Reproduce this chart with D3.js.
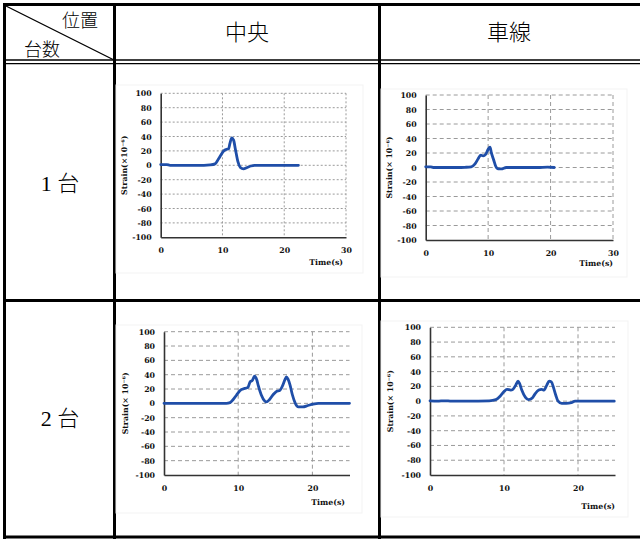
<!DOCTYPE html>
<html>
<head>
<meta charset="utf-8">
<script src="https://cdn.jsdelivr.net/npm/d3@7/dist/d3.min.js"></script>
<style>
  html, body { margin: 0; padding: 0; background: #fff; }
  svg { display: block; }
</style>
</head>
<body>
<svg id="fig" width="640" height="539"></svg>
<script>
// Table headings
const columnHeads = ["中央", "車線"];
const rowHeads = [["1", "台"], ["2", "台"]];
const cornerTop = "位置";
const cornerBottom = "台数";

// Axis ticks
const yTicks = [100, 80, 60, 40, 20, 0, -20, -40, -60, -80, -100];
const xTicks30 = [0, 10, 20, 30];
const xTicks25 = [0, 10, 20];

// Strain records: [time (s), strain (×10^-6)]
const centerOne = [
  [0, 1], [1, 1], [1.5, 0], [3, 0], [5, 0], [7, 0], [8, 0.5], [8.8, 2], [9.3, 8],
  [9.8, 15], [10.2, 20], [10.6, 22], [11.0, 23], [11.2, 30], [11.5, 38], [11.8, 35],
  [12.1, 22], [12.5, 5], [12.9, -3], [13.4, -5], [14, -3], [14.6, -1], [15.2, 0],
  [17, 0], [20, 0], [22.3, 0]
];
const laneOne = [
  [0, 1], [0.8, 1], [1.2, 0], [3, 0], [5, 0], [6.3, 0.3], [7.3, 1], [7.9, 5],
  [8.4, 12], [8.8, 17], [9.2, 16], [9.6, 18], [10.0, 25], [10.3, 28], [10.5, 21],
  [10.9, 10], [11.2, 2], [11.6, -2], [12.1, -2], [12.9, 0], [15, 0], [18, 0],
  [19.5, 0.5], [20.6, 0]
];
const centerTwo = [
  [0, 0], [3, 0], [6, 0], [8.4, 0], [8.9, 1], [9.3, 5], [9.8, 12], [10.4, 19],
  [10.9, 21], [11.3, 22], [11.6, 30], [11.9, 32], [12.2, 38], [12.5, 33], [12.7, 25],
  [13.1, 12], [13.6, 3], [13.8, 2], [14.2, 5], [14.7, 12], [15.2, 17], [15.6, 18],
  [16.0, 25], [16.3, 33], [16.5, 37], [16.7, 34], [17.0, 25], [17.3, 12], [17.7, 0],
  [18.1, -5], [18.7, -5], [19.4, -3], [20.1, -1], [20.8, 0], [23, 0], [25, 0]
];
const laneTwo = [
  [0, 0.5], [1, 0], [2, 0.5], [2.9, 0], [5, 0], [8, 0.5], [8.9, 2], [9.5, 7],
  [10.0, 13], [10.4, 16], [10.9, 15], [11.2, 16], [11.6, 22], [11.9, 27], [12.1, 24],
  [12.4, 15], [12.9, 5], [13.3, 2], [13.8, 4], [14.2, 10], [14.7, 15], [15.1, 16],
  [15.4, 15], [15.8, 22], [16.1, 27], [16.4, 26], [16.7, 18], [17.0, 8], [17.3, 0],
  [17.8, -3], [18.4, -3], [19.1, -2], [19.6, 0], [22, 0], [24.9, 0]
];

const svg = d3.select("#fig");
const ink = "#000";
const cjk = "'Noto Sans CJK JP', 'Noto Sans', sans-serif";

// ---- table frame ----
const T = svg.append("g");
function hline(x1, x2, y, w) {
  T.append("line").attr("x1", x1).attr("x2", x2).attr("y1", y).attr("y2", y)
    .attr("stroke", ink).attr("stroke-width", w);
}
function vline(x, y1, y2, w) {
  T.append("line").attr("x1", x).attr("x2", x).attr("y1", y1).attr("y2", y2)
    .attr("stroke", ink).attr("stroke-width", w);
}
hline(3, 640, 4.5, 3);
hline(3, 640, 60, 1.4);
hline(3, 640, 63.6, 1.4);
hline(3, 640, 300.5, 3);
hline(3, 640, 537, 3);
vline(4.5, 3, 539, 3);
vline(114.5, 3, 539, 3);
vline(379.5, 3, 539, 3);
T.append("line").attr("x1", 6).attr("y1", 6).attr("x2", 113).attr("y2", 59.5)
  .attr("stroke", ink).attr("stroke-width", 1.3);

T.append("text").attr("x", 80).attr("y", 27).attr("text-anchor", "middle")
  .attr("font-family", cjk).attr("font-weight", 300).attr("font-size", 18).text(cornerTop);
T.append("text").attr("x", 42).attr("y", 56).attr("text-anchor", "middle")
  .attr("font-family", cjk).attr("font-weight", 300).attr("font-size", 18).text(cornerBottom);

[247, 509].forEach((cx, i) => {
  T.append("text").attr("x", cx).attr("y", 40).attr("text-anchor", "middle")
    .attr("font-family", cjk).attr("font-weight", 300).attr("font-size", 22)
    .text(columnHeads[i]);
});
[191, 426].forEach((by, i) => {
  const t = T.append("text").attr("x", 60).attr("y", by).attr("text-anchor", "middle")
    .attr("font-size", 22);
  t.append("tspan").attr("font-family", "'Liberation Serif', serif").text(rowHeads[i][0] + " ");
  t.append("tspan").attr("font-family", cjk).attr("font-weight", 300).text(rowHeads[i][1]);
});

// ---- strain charts ----
const panels = [
  { data: centerOne, xMax: 30, ticks: xTicks30, frame: [116, 85, 363, 273],
    px: [160.7, 346], py: [93.3, 237.3], dash: "2,2", ylab: "Strain(×10⁻⁶)",
    yLabX: 125, timeY: 265, timeX: 343 },
  { data: laneOne, xMax: 30, ticks: xTicks30, frame: [381, 89, 627, 277],
    px: [425.7, 613], py: [95, 240], dash: "4,3", ylab: "Strain(× 10⁻⁶)",
    yLabX: 390, timeY: 266, timeX: 613 },
  { data: centerTwo, xMax: 25, ticks: xTicks25, frame: [116, 325, 362, 513],
    px: [164, 349.5], py: [331.7, 475], dash: "4,3", ylab: "Strain(× 10⁻⁶)",
    yLabX: 126, timeY: 505, timeX: 345 },
  { data: laneTwo, xMax: 25, ticks: xTicks25, frame: [381, 321, 628, 517],
    px: [430, 615], py: [327.3, 475], dash: "4,3", ylab: "Strain(× 10⁻⁶)",
    yLabX: 391, timeY: 509, timeX: 615 }
];

const labelFont = "'DejaVu Serif', serif";
const plain = d => String(d);

panels.forEach(p => {
  const g = svg.append("g");
  const [fx1, fy1, fx2, fy2] = p.frame;
  g.append("rect").attr("x", fx1).attr("y", fy1).attr("width", fx2 - fx1).attr("height", fy2 - fy1)
    .attr("fill", "#fff").attr("stroke", "#f3f3f3").attr("stroke-width", 1);

  const x = d3.scaleLinear().domain([0, p.xMax]).range(p.px);
  const y = d3.scaleLinear().domain([-100, 100]).range([p.py[1], p.py[0]]);

  // horizontal grid
  g.append("g").selectAll("line").data(yTicks.filter(v => v > -100)).join("line")
    .attr("x1", p.px[0]).attr("x2", p.px[1])
    .attr("y1", d => y(d)).attr("y2", d => y(d))
    .attr("stroke", "#9a9a9a").attr("stroke-width", 1).attr("stroke-dasharray", p.dash);
  // vertical grid
  g.append("g").selectAll("line").data(p.ticks.filter(v => v > 0)).join("line")
    .attr("x1", d => x(d)).attr("x2", d => x(d))
    .attr("y1", p.py[0]).attr("y2", p.py[1])
    .attr("stroke", "#9a9a9a").attr("stroke-width", 1).attr("stroke-dasharray", p.dash);

  // axes
  const yAxis = g.append("g").attr("transform", `translate(${p.px[0]},0)`)
    .call(d3.axisLeft(y).tickValues(yTicks).tickFormat(plain).tickSize(0).tickPadding(9));
  const xAxis = g.append("g").attr("transform", `translate(0,${p.py[1]})`)
    .call(d3.axisBottom(x).tickValues(p.ticks).tickFormat(plain).tickSize(0).tickPadding(10));
  [yAxis, xAxis].forEach(a => {
    a.select(".domain").attr("stroke", "#333").attr("stroke-width", 1.6);
    a.selectAll("text").attr("font-family", labelFont).attr("font-weight", "bold")
      .attr("font-size", 7.8).attr("fill", "#111");
  });

  // strain line
  const line = d3.line().x(d => x(d[0])).y(d => y(d[1])).curve(d3.curveMonotoneX);
  g.append("path").datum(p.data).attr("d", line)
    .attr("fill", "none").attr("stroke", "#1f4ea8").attr("stroke-width", 2.8)
    .attr("stroke-linejoin", "round").attr("stroke-linecap", "round");

  // axis titles
  g.append("text").attr("x", p.timeX).attr("y", p.timeY).attr("text-anchor", "end")
    .attr("font-family", labelFont).attr("font-weight", "bold").attr("font-size", 7.8)
    .attr("fill", "#111").text("Time(s)");
  g.append("text")
    .attr("transform", `translate(${p.yLabX},${(p.py[0] + p.py[1]) / 2}) rotate(-90)`)
    .attr("text-anchor", "middle").attr("dominant-baseline", "middle")
    .attr("font-family", labelFont).attr("font-weight", "bold").attr("font-size", 7.8)
    .attr("fill", "#111").text(p.ylab);
});
</script>
</body>
</html>
